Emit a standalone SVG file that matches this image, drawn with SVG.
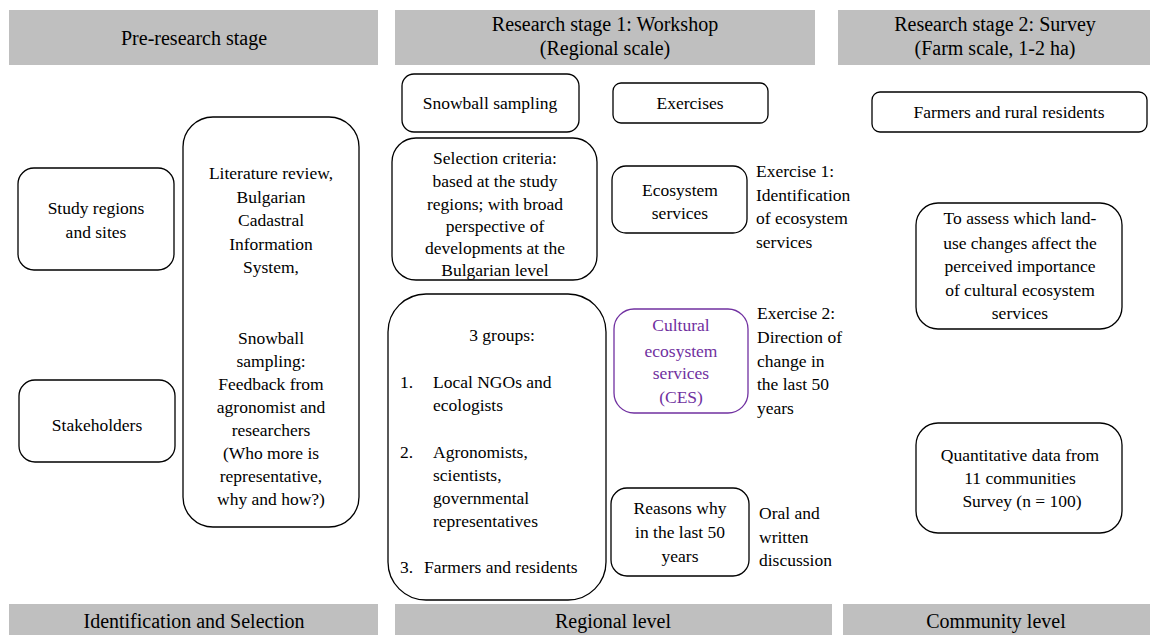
<svg xmlns="http://www.w3.org/2000/svg" width="1150" height="635" viewBox="0 0 1150 635">
  <style>
    .bar { fill: #bfbfbf; }
    .box { fill: #ffffff; stroke: #000000; stroke-width: 1.3; }
    .ces { fill: #ffffff; stroke: #7030a0; stroke-width: 1.3; }
    text { fill: #000000; font-family: "Times New Roman", "Liberation Serif", "DejaVu Serif", serif; }
    .hd { font-size: 20px; text-anchor: middle; }
    .t { font-size: 17.5px; }
    .c { text-anchor: middle; }
    .purple { fill: #7030a0; }
  </style>

  <!-- stage headers -->
  <g id="header-pre">
    <rect class="bar" x="9" y="10" width="369" height="55"/>
    <text class="hd" x="194" y="45">Pre-research stage</text>
  </g>
  <g id="header-stage1">
    <rect class="bar" x="395" y="10" width="420" height="55"/>
    <text class="hd" x="605" y="31">Research stage 1: Workshop</text>
    <text class="hd" x="605" y="55">(Regional scale)</text>
  </g>
  <g id="header-stage2">
    <rect class="bar" x="838" y="10" width="312" height="55"/>
    <text class="hd" x="995" y="31">Research stage 2: Survey</text>
    <text class="hd" x="995" y="55">(Farm scale, 1-2 ha)</text>
  </g>

  <!-- level footers -->
  <g id="footer-identification">
    <rect class="bar" x="9" y="604" width="369" height="31"/>
    <text class="hd" x="194" y="628">Identification and Selection</text>
  </g>
  <g id="footer-regional">
    <rect class="bar" x="395" y="604" width="437" height="31"/>
    <text class="hd" x="613" y="628">Regional level</text>
  </g>
  <g id="footer-community">
    <rect class="bar" x="843" y="604" width="307" height="31"/>
    <text class="hd" x="996" y="628">Community level</text>
  </g>

  <!-- pre-research column -->
  <g id="study-regions">
    <rect class="box" x="18" y="168" width="156" height="102" rx="16"/>
    <text class="t c" x="96" y="214">Study regions</text>
    <text class="t c" x="96" y="238">and sites</text>
  </g>
  <g id="stakeholders">
    <rect class="box" x="19" y="380" width="156" height="82" rx="16"/>
    <text class="t c" x="97" y="431">Stakeholders</text>
  </g>
  <g id="pre-methods">
    <rect class="box" x="183" y="117" width="176" height="410" rx="30"/>
    <text class="t c" x="271" y="179">Literature review,</text>
    <text class="t c" x="271" y="203">Bulgarian</text>
    <text class="t c" x="271" y="226">Cadastral</text>
    <text class="t c" x="271" y="250">Information</text>
    <text class="t c" x="271" y="273">System,</text>
    <text class="t c" x="271" y="344">Snowball</text>
    <text class="t c" x="271" y="367">sampling:</text>
    <text class="t c" x="271" y="390">Feedback from</text>
    <text class="t c" x="271" y="413">agronomist and</text>
    <text class="t c" x="271" y="436">researchers</text>
    <text class="t c" x="271" y="459">(Who more is</text>
    <text class="t c" x="271" y="482">representative,</text>
    <text class="t c" x="271" y="505">why and how?)</text>
  </g>

  <!-- research stage 1 column -->
  <g id="snowball-sampling">
    <rect class="box" x="402" y="74" width="177" height="58" rx="12"/>
    <text class="t c" x="490" y="109">Snowball sampling</text>
  </g>
  <g id="selection-criteria">
    <rect class="box" x="392" y="138" width="205" height="142" rx="24"/>
    <text class="t c" x="495" y="164">Selection criteria:</text>
    <text class="t c" x="495" y="187">based at the study</text>
    <text class="t c" x="495" y="210">regions; with broad</text>
    <text class="t c" x="495" y="232">perspective of</text>
    <text class="t c" x="495" y="254">developments at the</text>
    <text class="t c" x="495" y="276">Bulgarian level</text>
  </g>
  <g id="groups">
    <rect class="box" x="388" y="294" width="218" height="306" rx="38"/>
    <text class="t c" x="502" y="341">3 groups:</text>
    <text class="t" x="400" y="388">1.</text>
    <text class="t" x="433" y="388">Local NGOs and</text>
    <text class="t" x="433" y="411">ecologists</text>
    <text class="t" x="400" y="458">2.</text>
    <text class="t" x="433" y="458">Agronomists,</text>
    <text class="t" x="433" y="481">scientists,</text>
    <text class="t" x="433" y="504">governmental</text>
    <text class="t" x="433" y="527">representatives</text>
    <text class="t" x="400" y="573">3.</text>
    <text class="t" x="424" y="573">Farmers and residents</text>
  </g>
  <g id="exercises">
    <rect class="box" x="613" y="83" width="155" height="40" rx="8"/>
    <text class="t c" x="690" y="109">Exercises</text>
  </g>
  <g id="ecosystem-services">
    <rect class="box" x="612" y="166" width="135" height="67" rx="14"/>
    <text class="t c" x="680" y="196">Ecosystem</text>
    <text class="t c" x="680" y="219">services</text>
  </g>
  <g id="exercise-1-note">
    <text class="t" x="756" y="177">Exercise 1:</text>
    <text class="t" x="756" y="201">Identification</text>
    <text class="t" x="756" y="224">of ecosystem</text>
    <text class="t" x="756" y="248">services</text>
  </g>
  <g id="cultural-ecosystem-services">
    <rect class="ces" x="614" y="309" width="134" height="104" rx="20"/>
    <text class="t c purple" x="681" y="331">Cultural</text>
    <text class="t c purple" x="681" y="357">ecosystem</text>
    <text class="t c purple" x="681" y="379">services</text>
    <text class="t c purple" x="681" y="403">(CES)</text>
  </g>
  <g id="exercise-2-note">
    <text class="t" x="757" y="319">Exercise 2:</text>
    <text class="t" x="757" y="343">Direction of</text>
    <text class="t" x="757" y="367">change in</text>
    <text class="t" x="757" y="390">the last 50</text>
    <text class="t" x="757" y="414">years</text>
  </g>
  <g id="reasons">
    <rect class="box" x="611" y="488" width="138" height="88" rx="16"/>
    <text class="t c" x="680" y="514">Reasons why</text>
    <text class="t c" x="680" y="538">in the last 50</text>
    <text class="t c" x="680" y="562">years</text>
  </g>
  <g id="discussion-note">
    <text class="t" x="759" y="519">Oral and</text>
    <text class="t" x="759" y="543">written</text>
    <text class="t" x="759" y="566">discussion</text>
  </g>

  <!-- research stage 2 column -->
  <g id="farmers-residents">
    <rect class="box" x="872" y="92" width="275" height="40" rx="8"/>
    <text class="t c" x="1009" y="118">Farmers and rural residents</text>
  </g>
  <g id="survey-aim">
    <rect class="box" x="916" y="203" width="206" height="126" rx="22"/>
    <text class="t c" x="1020" y="224">To assess which land-</text>
    <text class="t c" x="1020" y="249">use changes affect the</text>
    <text class="t c" x="1020" y="272">perceived importance</text>
    <text class="t c" x="1020" y="296">of  cultural ecosystem</text>
    <text class="t c" x="1020" y="319">services</text>
  </g>
  <g id="survey-data">
    <rect class="box" x="916" y="423" width="206" height="110" rx="22"/>
    <text class="t c" x="1020" y="461">Quantitative data from</text>
    <text class="t c" x="1020" y="484">11 communities</text>
    <text class="t c" x="1022" y="507">Survey (n = 100)</text>
  </g>

  <!-- this layout has no connectors -->
  <g id="connectors"/>
</svg>
